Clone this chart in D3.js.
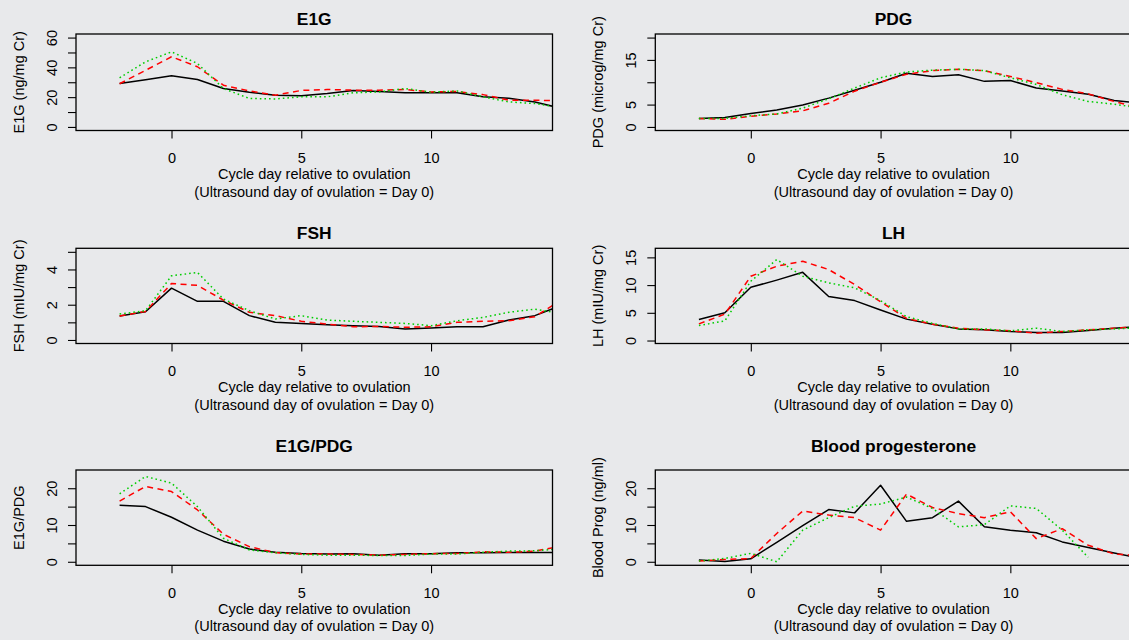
<!DOCTYPE html>
<html>
<head>
<meta charset="utf-8">
<script src="https://cdn.jsdelivr.net/npm/d3@7"></script>
<style>
  html, body { margin: 0; padding: 0; background: #e8e9eb; }
  svg { display: block; }
  text { font-family: "Liberation Sans", Arial, Helvetica, sans-serif; fill: #000; }
</style>
</head>
<body>
<svg id="chart" width="1129" height="640"></svg>
<script>
// ---------- data ----------
const days = [-2, -1, 0, 1, 2, 3, 4, 5, 6, 7, 8, 9, 10, 11, 12, 13, 14, 15];
const xTicks = [0, 5, 10];
const xLim = [-3, 14];
const xLabel1 = "Cycle day relative to ovulation";
const xLabel2 = "(Ultrasound day of ovulation = Day 0)";

const titles = ["E1G", "PDG", "FSH", "LH", "E1G/PDG", "Blood progesterone"];
const yLabels = ["E1G (ng/mg Cr)", "PDG (microg/mg Cr)", "FSH (mIU/mg Cr)", "LH (mIU/mg Cr)", "E1G/PDG", "Blood Prog (ng/ml)"];
const yLims = [[0, 60], [0, 20], [0, 5], [0.1, 16], [0, 24], [0, 24]];
const yTicks = [[0, 10, 20, 30, 40, 50, 60], [0, 5, 10, 15, 20], [0, 1, 2, 3, 4, 5], [0, 5, 10, 15], [0, 5, 10, 15, 20], [0, 5, 10, 15, 20]];
const yTickLabels = [[0, 20, 40, 60], [0, 5, 15], [0, 2, 4], [0, 5, 10, 15], [0, 10, 20], [0, 10, 20]];

const e1gBlack = [29.1, 31.7, 34.3, 31.8, 25.8, 23.3, 21.3, 20.9, 22.4, 24.4, 23.8, 22.9, 22.9, 22.9, 20.2, 19.3, 16.8, 12.5];
const e1gRed   = [29.0, 38.0, 47.1, 40.4, 28.0, 24.2, 21.3, 24.5, 25.1, 24.7, 24.7, 25.1, 23.5, 23.8, 21.7, 17.9, 17.9, 17.5];
const e1gGreen = [33.0, 43.7, 50.4, 42.6, 25.8, 19.1, 18.8, 20.2, 20.2, 22.9, 23.5, 25.8, 23.3, 24.2, 20.2, 16.8, 15.7, 13.0];

const pdgBlack = [1.87, 2.1, 3.0, 3.8, 4.9, 6.45, 8.2, 10.0, 12.0, 11.3, 11.7, 10.2, 10.4, 8.7, 8.05, 7.3, 5.9, 5.3];
const pdgRed   = [1.9, 1.7, 2.4, 2.9, 3.6, 5.3, 8.0, 10.0, 11.8, 12.6, 12.9, 12.6, 11.3, 9.9, 8.4, 7.4, 5.7, 4.2];
const pdgGreen = [1.9, 1.9, 2.5, 2.9, 4.2, 6.3, 8.7, 11.0, 12.3, 12.7, 12.9, 12.6, 11.0, 9.5, 7.2, 5.7, 5.1, 4.2];

const fshBlack = [1.36, 1.6, 2.94, 2.19, 2.19, 1.38, 1.0, 0.94, 0.87, 0.81, 0.77, 0.62, 0.68, 0.75, 0.75, 1.13, 1.38, 1.95];
const fshRed   = [1.36, 1.62, 3.2, 3.1, 2.26, 1.57, 1.38, 1.06, 0.9, 0.75, 0.77, 0.72, 0.75, 1.0, 1.06, 1.09, 1.32, 2.25];
const fshGreen = [1.47, 1.66, 3.64, 3.83, 2.32, 1.66, 1.19, 1.38, 1.13, 1.06, 1.0, 0.94, 0.81, 1.09, 1.28, 1.57, 1.75, 1.5];

const lhBlack = [3.8, 5.0, 9.6, 10.9, 12.3, 7.95, 7.2, 5.5, 3.86, 2.95, 2.1, 1.93, 1.63, 1.45, 1.45, 1.8, 2.23, 2.55];
const lhRed   = [3.0, 4.76, 11.6, 13.4, 14.3, 12.8, 10.1, 7.0, 4.0, 2.95, 2.23, 1.93, 1.75, 1.33, 1.63, 1.93, 2.23, 2.5];
const lhGreen = [2.7, 3.55, 10.7, 14.6, 11.6, 10.4, 9.5, 7.2, 4.3, 3.1, 2.1, 2.1, 1.75, 2.23, 1.63, 1.93, 2.1, 2.3];

const ratioBlack = [15.4, 15.0, 12.1, 8.6, 5.6, 3.45, 2.6, 2.27, 2.1, 2.2, 1.8, 2.2, 2.2, 2.45, 2.45, 2.55, 2.55, 2.55];
const ratioRed   = [16.5, 20.5, 19.1, 14.1, 7.5, 4.1, 2.5, 2.1, 2.1, 2.0, 1.8, 2.0, 2.2, 2.27, 2.7, 2.6, 2.9, 4.2];
const ratioGreen = [18.5, 23.2, 21.4, 15.0, 6.4, 3.2, 2.45, 2.0, 1.8, 1.8, 1.7, 1.7, 2.1, 2.1, 2.6, 2.9, 3.0, 3.5];

const bloodBlack = [0.45, 0.1, 0.8, 5.3, 9.8, 14.2, 13.3, 20.8, 11.0, 12.0, 16.5, 9.5, 8.6, 7.9, 5.4, 3.9, 2.4, 1.0];
const bloodRed   = [0.2, 0.6, 0.9, 7.7, 13.8, 12.7, 12.0, 8.6, 18.4, 14.75, 13.1, 12.0, 13.6, 6.3, 9.0, 4.5, 2.1, 1.7];
const bloodGreen = [0.2, 0.9, 2.3, 0.0, 8.6, 12.0, 15.1, 15.7, 17.6, 14.5, 9.5, 10.1, 15.2, 14.5, 8.6, 1.2, null, null];

const seriesSets = [
  [e1gBlack, e1gRed, e1gGreen],
  [pdgBlack, pdgRed, pdgGreen],
  [fshBlack, fshRed, fshGreen],
  [lhBlack, lhRed, lhGreen],
  [ratioBlack, ratioRed, ratioGreen],
  [bloodBlack, bloodRed, bloodGreen]
];

// ---------- layout / style ----------
const colLeft = [76, 655.3];
const boxW = 476.5;
const rowTop = [34, 248.3, 470];
const rowBottom = [130.5, 343.5, 565.3];
const titleY = [19, 232.7, 445.7];
const axisFont = 14.5;
const titleFont = 17.4;
const lineStyles = [
  { color: "#000000", dash: null },
  { color: "#ff0000", dash: "6,4.5" },
  { color: "#00cd00", dash: "1.6,3" }
];

const svg = d3.select("#chart");

function expand(lim) {
  const e = (lim[1] - lim[0]) * 0.04;
  return [lim[0] - e, lim[1] + e];
}

titles.forEach((title, i) => {
  const col = i % 2, row = Math.floor(i / 2);
  const left = colLeft[col], right = left + boxW;
  const top = rowTop[row], bottom = rowBottom[row];
  const cx = (left + right) / 2;

  const x = d3.scaleLinear().domain(expand(xLim)).range([left, right]);
  const y = d3.scaleLinear().domain(expand(yLims[i])).range([bottom, top]);

  const g = svg.append("g");

  const clipId = "clip" + i;
  svg.append("clipPath").attr("id", clipId)
    .append("rect").attr("x", left).attr("y", top).attr("width", boxW).attr("height", bottom - top);

  // lines
  const line = d3.line()
    .defined(d => d[1] !== null && d[1] !== undefined)
    .x(d => x(d[0])).y(d => y(d[1]));
  const lg = g.append("g").attr("clip-path", `url(#${clipId})`);
  seriesSets[i].forEach((vals, k) => {
    const pts = days.map((d, j) => [d, vals[j]]);
    lg.append("path")
      .attr("d", line(pts))
      .attr("fill", "none")
      .attr("stroke", lineStyles[k].color)
      .attr("stroke-width", 1.5)
      .attr("stroke-dasharray", lineStyles[k].dash)
      .attr("stroke-linejoin", "round");
  });

  // box
  g.append("rect")
    .attr("x", left).attr("y", top).attr("width", boxW).attr("height", bottom - top)
    .attr("fill", "none").attr("stroke", "#000").attr("stroke-width", 1.3);

  // x axis
  const xa = g.append("g").attr("transform", `translate(0,${bottom})`)
    .call(d3.axisBottom(x).tickValues(xTicks).tickSize(8).tickPadding(7).tickFormat(d3.format("d")));
  xa.select(".domain").remove();
  xa.selectAll("line").attr("stroke", "#000").attr("stroke-width", 1.1);
  xa.selectAll("text").attr("font-size", axisFont).attr("font-family", null).attr("dy", null)
    .attr("y", 27.5).attr("dominant-baseline", "central").attr("fill", "#000");

  // y axis
  const labelSet = new Set(yTickLabels[i]);
  const ya = g.append("g").attr("transform", `translate(${left},0)`)
    .call(d3.axisLeft(y).tickValues(yTicks[i]).tickSize(8)
      .tickFormat(v => labelSet.has(v) ? d3.format("d")(v) : ""));
  ya.select(".domain").remove();
  ya.selectAll("line").attr("stroke", "#000").attr("stroke-width", 1.1);
  ya.selectAll("text").attr("font-size", axisFont).attr("font-family", null)
    .attr("x", null).attr("dy", null)
    .attr("text-anchor", "middle").attr("dominant-baseline", "central")
    .attr("transform", "translate(-24.3,0) rotate(-90)").attr("fill", "#000");

  // title
  g.append("text").attr("x", cx).attr("y", titleY[row])
    .attr("text-anchor", "middle").attr("dominant-baseline", "central")
    .attr("font-weight", "bold").attr("font-size", titleFont).text(title);

  // x labels
  g.append("text").attr("x", cx).attr("y", bottom + 43.3)
    .attr("text-anchor", "middle").attr("dominant-baseline", "central")
    .attr("font-size", axisFont).text(xLabel1);
  g.append("text").attr("x", cx).attr("y", bottom + 61)
    .attr("text-anchor", "middle").attr("dominant-baseline", "central")
    .attr("font-size", axisFont).text(xLabel2);

  // y label
  g.append("text")
    .attr("transform", `translate(${left - 57},${(top + bottom) / 2}) rotate(-90)`)
    .attr("text-anchor", "middle").attr("dominant-baseline", "central")
    .attr("font-size", axisFont).text(yLabels[i]);
});
</script>
</body>
</html>
